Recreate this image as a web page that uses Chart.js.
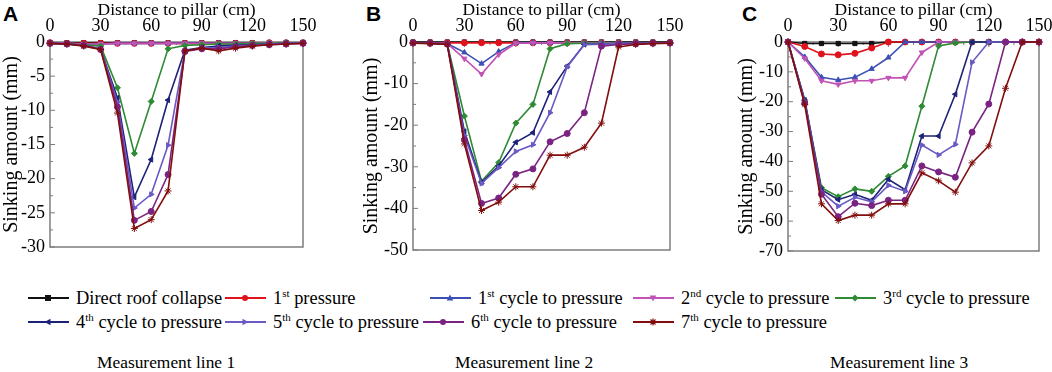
<!DOCTYPE html>
<html><head><meta charset="utf-8">
<script src="https://cdn.jsdelivr.net/npm/chart.js@4.4.1/dist/chart.umd.min.js"></script>
<style>
body{margin:0;width:1052px;height:372px;background:#fff;position:relative;overflow:hidden;font-family:"Liberation Serif","Times New Roman",serif;color:#000}
canvas{position:absolute;top:0}
.lbl{position:absolute;top:3px;font:bold 21px "Liberation Sans",Arial,sans-serif;line-height:1}
.leg{position:absolute;font-size:18.4px;white-space:nowrap;line-height:1;display:flex;align-items:center}
.leg svg{margin-right:7px}
.leg sup{font-size:0.6em;vertical-align:0.6em;line-height:0}
.sub{position:absolute;top:354px;font-size:17.4px;white-space:nowrap;line-height:1}
</style></head>
<body>
<div class="lbl" style="left:3px">A</div>
<div class="lbl" style="left:366px">B</div>
<div class="lbl" style="left:742px">C</div>
<canvas id="cA" width="320" height="260" style="left:0"></canvas>
<canvas id="cB" width="327" height="260" style="left:360px"></canvas>
<canvas id="cC" width="317" height="260" style="left:735px"></canvas>
<div id="legend"></div>
<div class="sub" style="left:97px">Measurement line 1</div>
<div class="sub" style="left:455px">Measurement line 2</div>
<div class="sub" style="left:830px">Measurement line 3</div>
<script>
// ---- data ----
const xs = [0,10,20,30,40,50,60,70,80,90,100,110,120,130,140,150];
const xTicks = [0,30,60,90,120,150];
const yTicksA = [0,-5,-10,-15,-20,-25,-30];
const yTicksB = [0,-10,-20,-30,-40,-50];
const yTicksC = [0,-10,-20,-30,-40,-50,-60,-70];

const A_direct = [-0.1,-0.1,-0.1,-0.1,-0.1,-0.1,-0.1,-0.1,-0.1,-0.1,-0.1,-0.1,-0.1,-0.1,-0.1,-0.1];
const A_p1 = [-0.1,-0.2,-0.2,-0.2,-0.2,-0.2,-0.2,-0.2,-0.2,-0.2,-0.2,-0.2,-0.2,-0.1,-0.1,-0.1];
const A_c1 = [-0.1,-0.2,-0.3,-0.3,-0.2,-0.2,-0.2,-0.2,-0.2,-0.2,-0.2,-0.2,-0.2,-0.1,-0.1,-0.1];
const A_c2 = [-0.1,-0.2,-0.3,-0.3,-0.2,-0.2,-0.2,-0.2,-0.2,-0.2,-0.2,-0.2,-0.2,-0.1,-0.1,-0.1];
const A_c3 = [-0.2,-0.3,-0.4,-0.6,-6.7,-16.3,-8.7,-1.0,-0.5,-0.4,-0.3,-0.3,-0.2,-0.2,-0.1,-0.1];
const A_c4 = [-0.2,-0.3,-0.5,-1.0,-8.2,-22.7,-17.2,-8.5,-1.2,-0.8,-0.6,-0.5,-0.4,-0.3,-0.2,-0.1];
const A_c5 = [-0.2,-0.3,-0.5,-1.0,-8.8,-24.3,-22.3,-15.1,-1.3,-0.9,-0.8,-0.6,-0.5,-0.3,-0.2,-0.1];
const A_c6 = [-0.2,-0.3,-0.5,-1.1,-9.5,-26.1,-24.8,-19.4,-1.4,-1.0,-1.0,-0.7,-0.5,-0.4,-0.3,-0.2];
const A_c7 = [-0.2,-0.3,-0.6,-1.1,-10.4,-27.3,-26.0,-21.8,-1.3,-0.9,-1.3,-0.9,-0.6,-0.4,-0.3,-0.2];

const B_direct = [0,0,0,0,0,0,0,0,0,0,0,0,0,0,0,0];
const B_p1 = [-0.2,-0.2,-0.2,-0.2,-0.2,-0.2,-0.2,-0.2,-0.2,-0.2,-0.2,-0.2,-0.2,-0.2,-0.2,-0.2];
const B_c1 = [-0.2,-0.3,-0.4,-2.5,-5.2,-2.3,-0.2,-0.2,-0.2,-0.2,-0.2,-0.2,-0.2,-0.2,-0.2,-0.2];
const B_c2 = [-0.2,-0.3,-0.4,-4.0,-7.7,-3.0,-0.3,-0.2,-0.2,-0.2,-0.2,-0.2,-0.2,-0.2,-0.2,-0.2];
const B_c3 = [-0.2,-0.3,-0.5,-17.8,-33.5,-29.0,-19.5,-15.0,-1.6,-0.4,-0.3,-0.3,-0.3,-0.3,-0.2,-0.2];
const B_c4 = [-0.2,-0.3,-0.5,-21.5,-33.8,-29.8,-24.1,-21.8,-12.0,-5.8,-0.6,-0.5,-0.4,-0.3,-0.3,-0.2];
const B_c5 = [-0.2,-0.3,-0.5,-22.5,-34.0,-30.2,-26.3,-24.7,-17.0,-6.0,-0.6,-0.5,-0.4,-0.3,-0.3,-0.2];
const B_c6 = [-0.2,-0.3,-0.5,-23.5,-38.8,-37.5,-31.8,-30.5,-24.0,-22.0,-17.0,-1.0,-0.6,-0.4,-0.3,-0.2];
const B_c7 = [-0.3,-0.4,-0.6,-24.5,-40.5,-38.5,-34.8,-34.8,-27.2,-27.2,-25.3,-19.5,-1.2,-0.6,-0.4,-0.3];

const C_direct = [0,-0.5,-0.5,-0.5,-0.5,-0.5,0,0,0,0,0,0,0,0,0,0];
const C_p1 = [0,-1.5,-4.0,-4.3,-3.8,-2.0,0,0,0,0,0,0,0,0,0,0];
const C_c1 = [0,-5.0,-11.8,-12.7,-11.8,-9.0,-5.2,0,0,0,0,0,0,0,0,0];
const C_c2 = [0,-5.5,-13.0,-14.2,-13.0,-13.0,-12.0,-12.0,-3.5,0,0,0,0,0,0,0];
const C_c3 = [0,-19.5,-48.8,-51.8,-49.2,-50.0,-45.0,-41.5,-21.5,-1.3,-0.3,0,0,0,0,0];
const C_c4 = [0,-19.5,-49.5,-52.8,-51.0,-53.0,-46.0,-49.5,-31.5,-31.5,-17.5,0,0,0,0,0];
const C_c5 = [0,-19.8,-50.2,-55.0,-52.0,-53.5,-48.0,-50.0,-34.5,-37.8,-34.3,-6.8,0,0,0,0];
const C_c6 = [0,-20.5,-51.0,-58.5,-54.0,-54.8,-53.0,-53.0,-41.5,-43.5,-45.3,-30.2,-20.8,0,0,0];
const C_c7 = [0,-21.0,-54.2,-59.8,-58.0,-58.0,-54.2,-54.2,-43.8,-46.5,-50.3,-40.5,-34.8,-15.5,0,0];

const seriesNames = ['Direct roof collapse','1<sup>st</sup> pressure','1<sup>st</sup> cycle to pressure','2<sup>nd</sup> cycle to pressure','3<sup>rd</sup> cycle to pressure','4<sup>th</sup> cycle to pressure','5<sup>th</sup> cycle to pressure','6<sup>th</sup> cycle to pressure','7<sup>th</sup> cycle to pressure'];

// ---- styles ----
const colors = ['#111111','#e0121c','#3b4fb5','#c253b5','#2f8a34','#1c2278','#6a5ac4','#7a2382','#820d0d'];
const shapes = [
  {s:'rect',r:0},{s:'circle',r:0},{s:'triangle',r:0},{s:'triangle',r:180},{s:'rectRot',r:0},
  {s:'triangle',r:-90},{s:'triangle',r:90},{s:'circle',r:0},{s:'star',r:0}
];

const FONT = '"Liberation Serif","Times New Roman",serif';

const framePlugin = {
  id:'frame',
  beforeDatasetsDraw(chart){
    const {ctx, chartArea:a, scales} = chart;
    ctx.save();
    ctx.strokeStyle = '#7d7d7d';
    ctx.lineWidth = 1.5;
    ctx.strokeRect(a.left, a.top, a.right-a.left, a.bottom-a.top);
    ctx.lineWidth = 1;
    const xt = scales.x.ticks.map(t=>t.value);
    const yt = scales.y.ticks.map(t=>t.value);
    ctx.beginPath();
    for (let i=0;i<xt.length;i++){
      const px = scales.x.getPixelForValue(xt[i]);
      ctx.moveTo(px, a.top); ctx.lineTo(px, a.top+5);
      if (i<xt.length-1){
        const pm = scales.x.getPixelForValue((xt[i]+xt[i+1])/2);
        ctx.moveTo(pm, a.top); ctx.lineTo(pm, a.top+3);
      }
    }
    for (let i=0;i<yt.length;i++){
      const py = scales.y.getPixelForValue(yt[i]);
      ctx.moveTo(a.left, py); ctx.lineTo(a.left+5, py);
      if (i<yt.length-1){
        const pm = scales.y.getPixelForValue((yt[i]+yt[i+1])/2);
        ctx.moveTo(a.left, pm); ctx.lineTo(a.left+3, pm);
      }
    }
    ctx.stroke();
    ctx.restore();
  }
};

function makeChart(id, series, yTicks, yMin, yWidth, padRight, padBottom){
  const datasets = series.map((vals,i)=>({
    data: xs.map((x,k)=>({x:x,y:vals[k]})),
    borderColor: colors[i], backgroundColor: colors[i],
    borderWidth: 1.6, pointStyle: shapes[i].s, pointRotation: shapes[i].r,
    pointRadius: shapes[i].s==='star'?3.5:3, pointBorderWidth: 1,
    clip: false, order: series.length - i
  }));
  return new Chart(document.getElementById(id), {
    type:'line',
    data:{datasets},
    plugins:[framePlugin],
    options:{
      responsive:false, animation:false, devicePixelRatio:1,
      layout:{padding:{top:0,right:padRight,bottom:padBottom,left:0}},
      plugins:{legend:{display:false}, tooltip:{enabled:false}},
      scales:{
        x:{type:'linear', position:'top', min:0, max:150,
          afterBuildTicks:s=>{s.ticks = xTicks.map(v=>({value:v}));},
          afterFit:s=>{s.height = 42; s.paddingLeft = 0; s.paddingRight = 0;},
          grid:{display:false, drawTicks:false}, border:{display:false},
          ticks:{color:'#000', padding:5, maxRotation:0, font:{family:FONT,size:18}},
          title:{display:true, text:'Distance to pillar (cm)', color:'#000', padding:{top:0,bottom:0}, font:{family:FONT,size:17.5}}
        },
        y:{type:'linear', min:yMin, max:0,
          afterBuildTicks:s=>{s.ticks = yTicks.map(v=>({value:v}));},
          afterFit:s=>{s.width = yWidth; s.paddingTop = 0; s.paddingBottom = 0;},
          grid:{display:false, drawTicks:false}, border:{display:false},
          ticks:{color:'#000', padding:5, font:{family:FONT,size:18}},
          title:{display:true, text:'Sinking amount (mm)', color:'#000', padding:{top:0,bottom:0}, font:{family:FONT,size:20}}
        }
      }
    }
  });
}

makeChart('cA',[A_direct,A_p1,A_c1,A_c2,A_c3,A_c4,A_c5,A_c6,A_c7], yTicksA, -30, 50, 17, 13);
makeChart('cB',[B_direct,B_p1,B_c1,B_c2,B_c3,B_c4,B_c5,B_c6,B_c7], yTicksB, -50, 53, 17, 10);
makeChart('cC',[C_direct,C_p1,C_c1,C_c2,C_c3,C_c4,C_c5,C_c6,C_c7], yTicksC, -70, 53, 13, 9);

// ---- legend (HTML, for superscripts) ----
function markerSVG(i){
  const c = colors[i], cx=20, cy=6;
  let m='';
  const sh = shapes[i];
  if (sh.s==='rect') m=`<rect x="${cx-3}" y="${cy-3}" width="6" height="6" fill="${c}"/>`;
  else if (sh.s==='circle') m=`<circle cx="${cx}" cy="${cy}" r="3" fill="${c}"/>`;
  else if (sh.s==='rectRot') m=`<polygon points="${cx},${cy-3.5} ${cx+3.5},${cy} ${cx},${cy+3.5} ${cx-3.5},${cy}" fill="${c}"/>`;
  else if (sh.s==='star') m=`<path d="M${cx-3.5} ${cy}H${cx+3.5}M${cx} ${cy-3.5}V${cy+3.5}M${cx-2.5} ${cy-2.5}L${cx+2.5} ${cy+2.5}M${cx-2.5} ${cy+2.5}L${cx+2.5} ${cy-2.5}" stroke="${c}" stroke-width="1.2"/>`;
  else m=`<polygon points="${cx},${cy-3.5} ${cx+3.3},${cy+2.5} ${cx-3.3},${cy+2.5}" fill="${c}" transform="rotate(${sh.r} ${cx} ${cy})"/>`;
  return `<svg width="41" height="12"><line x1="0" y1="6" x2="41" y2="6" stroke="${c}" stroke-width="2"/>${m}</svg>`;
}
const legPos = [[28,289],[225,289],[430,289],[633,289],[835,289],[28,313],[225,313],[423,313],[633,313]];
const leg = document.getElementById('legend');
seriesNames.forEach((n,i)=>{
  const d = document.createElement('div');
  d.className='leg';
  d.style.left = legPos[i][0]+'px';
  d.style.top = legPos[i][1]+'px';
  d.innerHTML = markerSVG(i) + '<span>' + n + '</span>';
  leg.appendChild(d);
});
</script>
</body></html>
